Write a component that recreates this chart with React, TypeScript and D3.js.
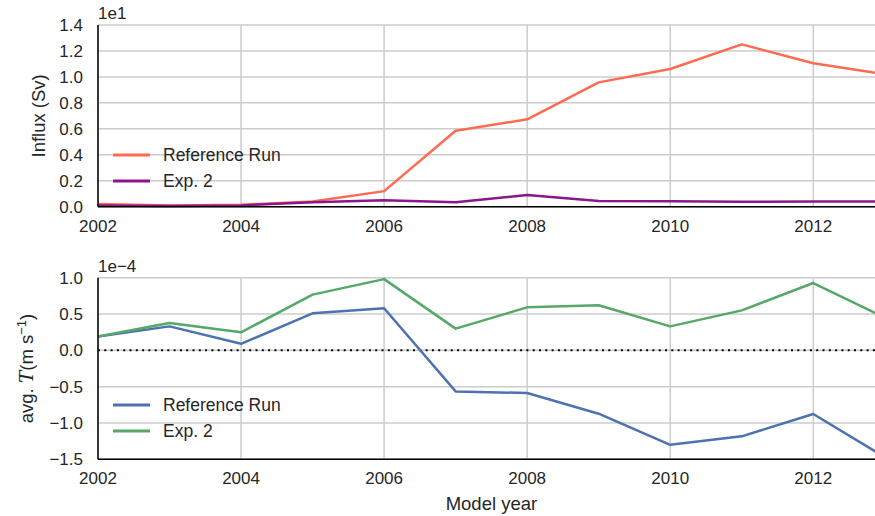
import React from "react";
import * as d3 from "d3";

const years = [2002, 2003, 2004, 2005, 2006, 2007, 2008, 2009, 2010, 2011, 2012, 2013];
// Influx (Sv), displayed in units of 1e1
const influxRef = [0.02, 0.01, 0.015, 0.04, 0.12, 0.585, 0.673, 0.958, 1.061, 1.251, 1.105, 1.02];
const influxExp2 = [0.01, 0.005, 0.01, 0.035, 0.05, 0.035, 0.09, 0.044, 0.042, 0.038, 0.04, 0.04];
// avg. T (m s^-1), displayed in units of 1e-4
const tauRef = [0.19, 0.33, 0.09, 0.51, 0.58, -0.565, -0.588, -0.872, -1.3, -1.184, -0.877, -1.47];
const tauExp2 = [0.19, 0.376, 0.248, 0.767, 0.98, 0.299, 0.592, 0.62, 0.33, 0.55, 0.927, 0.45];

const xTicks = [2002, 2004, 2006, 2008, 2010, 2012];
const topYTicks = [0, 0.2, 0.4, 0.6, 0.8, 1.0, 1.2, 1.4];
const botYTicks = [-1.5, -1.0, -0.5, 0, 0.5, 1.0];
const seriesNames = ["Reference Run", "Exp. 2"];

const W = 875;
const H = 516;
const FONT = "'Liberation Sans', Arial, Helvetica, sans-serif";
const TXT = "#262626";
const GRID = "#cccccc";

const x = d3.scaleLinear().domain([2002, 2013]).range([98, 884.8]);
const yTop = d3.scaleLinear().domain([0, 1.4]).range([206.7, 25]);
const yBot = d3.scaleLinear().domain([-1.5, 1.0]).range([459.3, 277.7]);

const fmt = (v: number) => d3.format(".1f")(v).replace("-", "\u2212");

function Panel({
  y,
  yTicks,
  series,
  colors,
  offsetText,
  legendY,
  zeroLine,
}: {
  y: d3.ScaleLinear<number, number>;
  yTicks: number[];
  series: number[][];
  colors: string[];
  offsetText: string;
  legendY: number[];
  zeroLine?: boolean;
}) {
  const [y0, y1] = y.range();
  const [x0, x1] = x.range();
  const line = d3
    .line<number>()
    .x((_, i) => x(years[i]))
    .y((d) => y(d));
  return (
    <g>
      {yTicks.map((t) => (
        <line key={"gy" + t} x1={x0} x2={x1} y1={y(t)} y2={y(t)} stroke={GRID} strokeWidth={1.5} />
      ))}
      {xTicks.map((t) => (
        <line key={"gx" + t} x1={x(t)} x2={x(t)} y1={y0} y2={y1} stroke={GRID} strokeWidth={1.5} />
      ))}
      {zeroLine && (
        <line x1={x0} x2={x1} y1={y(0)} y2={y(0)} stroke="#000" strokeWidth={2} strokeDasharray="2,4.3" />
      )}
      {series.map((s, i) => (
        <path key={"s" + i} d={line(s) || ""} fill="none" stroke={colors[i]} strokeWidth={2.5} strokeLinejoin="round" />
      ))}
      <line x1={x0} x2={x0} y1={y0} y2={y1} stroke="#000" strokeWidth={1.5} />
      <line x1={x0} x2={x1} y1={y0} y2={y0} stroke="#000" strokeWidth={1.5} />
      {yTicks.map((t) => (
        <text key={"ty" + t} x={x0 - 15} y={y(t)} dy="0.35em" textAnchor="end" fontSize={17} fill={TXT} fontFamily={FONT}>
          {fmt(t)}
        </text>
      ))}
      {xTicks.map((t) => (
        <text key={"tx" + t} x={x(t)} y={y0 + 25} textAnchor="middle" fontSize={17} fill={TXT} fontFamily={FONT}>
          {t}
        </text>
      ))}
      <text x={x0} y={y1 - 6} fontSize={17} fill={TXT} fontFamily={FONT}>
        {offsetText}
      </text>
      {seriesNames.map((n, i) => (
        <g key={"lg" + i}>
          <line x1={113} x2={150} y1={legendY[i]} y2={legendY[i]} stroke={colors[i]} strokeWidth={3} />
          <text x={163} y={legendY[i]} dy="0.35em" fontSize={17.5} fill={TXT} fontFamily={FONT}>
            {n}
          </text>
        </g>
      ))}
    </g>
  );
}

export default function App() {
  return (
    <svg width={W} height={H} style={{ position: "absolute", left: 0, top: 0, background: "#fff" }}>
      <rect width={W} height={H} fill="#fff" />
      <Panel
        y={yTop}
        yTicks={topYTicks}
        series={[influxRef, influxExp2]}
        colors={["#ff6a50", "#8b158b"]}
        offsetText={"1e1"}
        legendY={[155, 181]}
      />
      <Panel
        y={yBot}
        yTicks={botYTicks}
        series={[tauRef, tauExp2]}
        colors={["#4c72b0", "#55a868"]}
        offsetText={"1e\u22124"}
        legendY={[405, 431]}
        zeroLine
      />
      <text
        transform={`translate(45,${(yTop(0) + yTop(1.4)) / 2}) rotate(-90)`}
        textAnchor="middle"
        fontSize={18.5}
        fill={TXT}
        fontFamily={FONT}
      >
        Influx (Sv)
      </text>
      <text
        transform={`translate(33,${(yBot(-1.5) + yBot(1.0)) / 2}) rotate(-90)`}
        textAnchor="middle"
        fontSize={18.5}
        fill={TXT}
        fontFamily={FONT}
      >
        avg.{" "}
        <tspan fontStyle="italic" fontFamily="'DejaVu Serif', serif">
          T
        </tspan>
        {"(m s"}
        <tspan fontSize={13} dy={-7}>
          {"\u22121"}
        </tspan>
        <tspan dy={7}>)</tspan>
      </text>
      <text x={(x.range()[0] + x.range()[1]) / 2} y={510} textAnchor="middle" fontSize={18.5} fill={TXT} fontFamily={FONT}>
        Model year
      </text>
    </svg>
  );
}
